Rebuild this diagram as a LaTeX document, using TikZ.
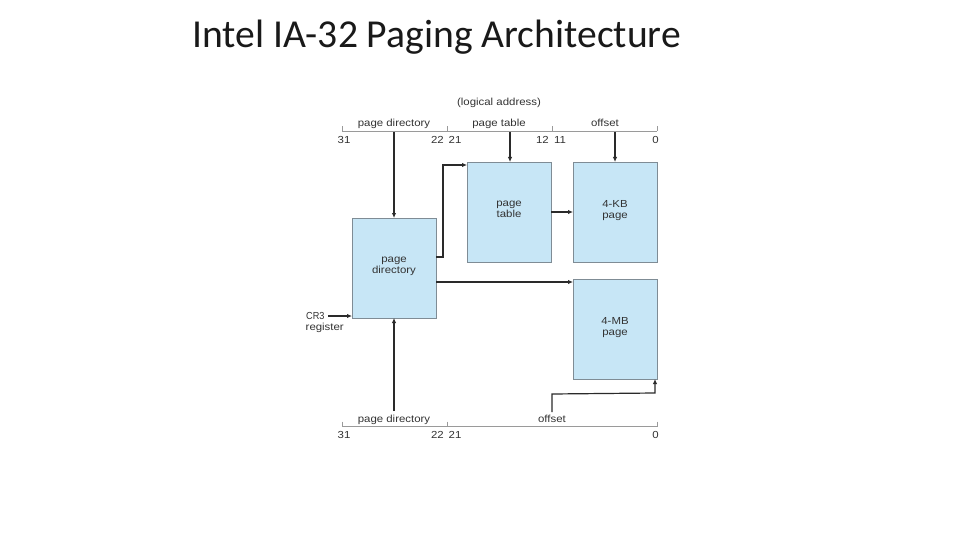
\documentclass[tikz,border=0pt]{standalone}
\usepackage{fontspec}
\setmainfont{Carlito}
\newfontfamily\diag[FakeStretch=1.12]{Liberation Sans}
\usetikzlibrary{arrows.meta,calc}
\definecolor{boxfill}{HTML}{C7E6F6}
\definecolor{boxline}{HTML}{7F8C95}
\definecolor{txt}{HTML}{333333}
\definecolor{arr}{HTML}{2A2A2A}
\definecolor{bitc}{HTML}{9A9A9A}
\begin{document}
\begin{tikzpicture}[x=1pt,y=-1pt,
  box/.style={draw=boxline, fill=boxfill, line width=0.8pt, inner sep=0pt, outer sep=0pt,
    minimum width=84pt, minimum height=100pt, anchor=north west, align=center,
    font=\diag\fontsize{10.2}{11.5}\selectfont, text=txt},
  lbl/.style={font=\diag\fontsize{10.2}{11}\selectfont, text=txt, inner sep=0pt, anchor=base},
  conn/.style={draw=arr, line width=1.2pt, -{Latex[length=5pt,width=4.5pt]}},
  bitline/.style={draw=bitc, line width=0.6pt}]
\useasboundingbox (0,0) rectangle (960,540);
\fill[white] (0,0) rectangle (960,540);

% title
\node[font=\fontsize{39.6}{42}\selectfont, text=black!90, anchor=base west, inner sep=0pt] (title) at (192,47.3) {Intel IA-32 Paging Architecture};

% top logical address
\node[lbl] (la) at (499,106) {(logical address)};
\draw[bitline] (342,131.5) -- (657,131.5);
\foreach \x in {342,447,552,657} \draw[bitline] (\x,126.5) -- (\x,131.5);
\node[lbl] (tpd) at (394,127) {page directory};
\node[lbl] (tpt) at (499,127) {page table};
\node[lbl] (toff) at (605,127) {offset};
\node[lbl] (n31) at (344,144) {31};
\node[lbl, anchor=base east] (n22) at (444,144) {22};
\node[lbl, anchor=base west] (n21) at (448.5,144) {21};
\node[lbl, anchor=base east] (n12) at (549,144) {12};
\node[lbl, anchor=base west] (n11) at (554,144) {11};
\node[lbl] (n0) at (655.5,144) {0};

% boxes
\node[box] (pd) at (352,218) {page\\directory\\[-6pt]};
\node[box] (pt) at (467,162) {page\\table\\[-6pt]};
\node[box] (kb) at (573,162) {4-KB\\page\\[-6pt]};
\node[box] (mb) at (573,279) {4-MB\\page\\[-6pt]};

% CR3
\node[lbl, anchor=base west] (cr3t) at (306,319.5) {\scalebox{0.8}[1]{CR3}};
\node[lbl, anchor=base west] (regt) at (305.5,330.5) {register};
\coordinate (cr3) at (328,316);
\draw[conn] (cr3) -- (cr3 -| pd.west);

% top connectors
\coordinate (fpd) at (394,132);
\coordinate (fpt) at (510,132);
\coordinate (foff) at (615,132);
\draw[conn] (fpd) -- (fpd |- pd.north);
\draw[conn] (fpt) -- (fpt |- pt.north);
\draw[conn] (foff) -- (foff |- kb.north);
\draw[conn] ($(pd.north east)+(0,39)$) -- ++(7,0) |- ($(pt.north west)+(0,3)$);
\draw[conn] ($(pt.north east)+(0,50)$) -- ($(kb.north west)+(0,50)$);
\draw[conn] ($(pd.north east)+(0,64)$) -- ($(mb.north west)+(0,3)$);

% bottom linear address
\draw[bitline] (342,426.5) -- (657,426.5);
\foreach \x in {342,447,657} \draw[bitline] (\x,421.5) -- (\x,426.5);
\node[lbl] (bpdt) at (394,422) {page directory};
\node[lbl] (bofft) at (552,422) {offset};
\node[lbl] (b31) at (344,438.5) {31};
\node[lbl, anchor=base east] (b22) at (444,438.5) {22};
\node[lbl, anchor=base west] (b21) at (448.5,438.5) {21};
\node[lbl] (b0) at (655.5,438.5) {0};

\coordinate (bpd) at (394,411);
\draw[conn] (bpd) -- (bpd |- pd.south);
\coordinate (boff) at (552,412);
\draw[conn] (boff) -- (552,394) -- ($(mb.south east)+(-2,14)$) -- ($(mb.south east)+(-2,0)$);
\end{tikzpicture}
\end{document}
